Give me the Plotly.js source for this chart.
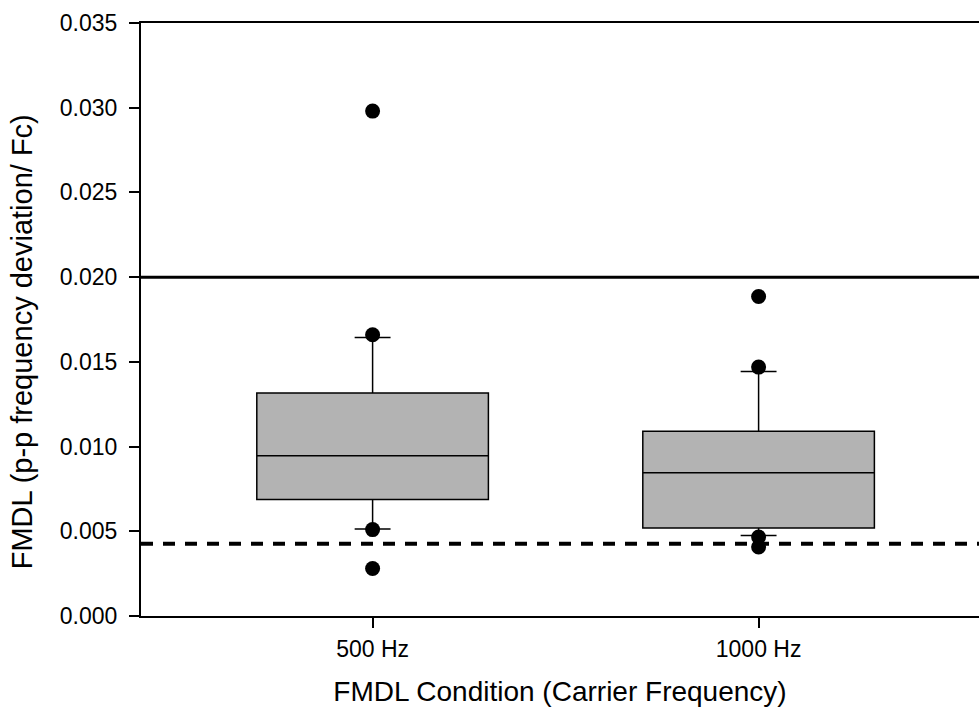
<!DOCTYPE html>
<html>
<head>
<meta charset="utf-8">
<script src="https://cdn.plot.ly/plotly-3.0.1.min.js"></script>
<style>html,body{margin:0;padding:0;background:#fff;}#chart{width:979px;height:713px;}</style>
</head>
<body>
<div id="chart"></div>
<script>
// Data
var categories = ['500 Hz', '1000 Hz'];
var q1Values = [0.00687, 0.0052];
var medianValues = [0.00946, 0.00846];
var q3Values = [0.01316, 0.0109];
var lowerWhisker = [0.00514, 0.00475];
var upperWhisker = [0.01644, 0.01443];
var points500 = [0.0298, 0.0166, 0.0051, 0.0028];
var points1000 = [0.01886, 0.01469, 0.00466, 0.00407];
var solidRefLine = 0.020;
var dashedRefLine = 0.00427;
var yTickVals = [0, 0.005, 0.010, 0.015, 0.020, 0.025, 0.030, 0.035];
var xTitle = 'FMDL Condition (Carrier Frequency)';
var yTitle = 'FMDL (p-p frequency deviation/ Fc)';

var boxTrace = {
  type: 'box',
  x: categories,
  q1: q1Values,
  median: medianValues,
  q3: q3Values,
  lowerfence: lowerWhisker,
  upperfence: upperWhisker,
  boxpoints: false,
  width: 0.6,
  whiskerwidth: 0.155,
  fillcolor: 'rgb(179,179,179)',
  line: {color: '#000', width: 1.5},
  hoverinfo: 'skip',
  showlegend: false
};

function pointsTrace(cat, vals) {
  return {
    type: 'scatter', mode: 'markers',
    x: vals.map(function(){ return cat; }),
    y: vals,
    marker: {color: '#000', size: 15},
    showlegend: false,
    hoverinfo: 'skip'
  };
}

var traces = [boxTrace, pointsTrace(categories[0], points500), pointsTrace(categories[1], points1000)];

var layout = {
  width: 979, height: 713,
  margin: {l: 141, r: 0, t: 23, b: 97},
  paper_bgcolor: '#fff', plot_bgcolor: '#fff',
  font: {family: 'Liberation Sans, Arial, sans-serif', color: '#000'},
  showlegend: false,
  xaxis: {
    type: 'category',
    range: [-0.6, 1.571],
    showline: true, linecolor: '#000', linewidth: 2, mirror: true,
    ticks: 'outside', ticklen: 10, tickwidth: 2, tickcolor: '#000',
    showgrid: false, zeroline: false,
    tickfont: {size: 23},
    ticklabelstandoff: 1,
    title: {text: xTitle, font: {size: 28}, standoff: 21}
  },
  yaxis: {
    range: [0, 0.035],
    tickvals: yTickVals,
    tickformat: '.3f',
    showline: true, linecolor: '#000', linewidth: 2, mirror: false,
    ticks: 'outside', ticklen: 10, tickwidth: 2, tickcolor: '#000',
    showgrid: false, zeroline: false,
    tickfont: {size: 23},
    ticklabelstandoff: 7
  },
  annotations: [
    {text: yTitle, textangle: -90, xref: 'paper', yref: 'paper',
     x: -0.141, y: 0.463, xanchor: 'center', yanchor: 'middle', showarrow: false,
     font: {size: 29}}
  ],
  shapes: [
    {type: 'line', xref: 'paper', x0: 0, x1: 1, yref: 'y', y0: solidRefLine, y1: solidRefLine,
     line: {color: '#000', width: 3}},
    {type: 'line', xref: 'paper', x0: 0, x1: 1, yref: 'y', y0: dashedRefLine, y1: dashedRefLine,
     line: {color: '#000', width: 4, dash: '12px,10px'}}
  ]
};

Plotly.newPlot('chart', traces, layout, {displayModeBar: false, staticPlot: true});
</script>
</body>
</html>
